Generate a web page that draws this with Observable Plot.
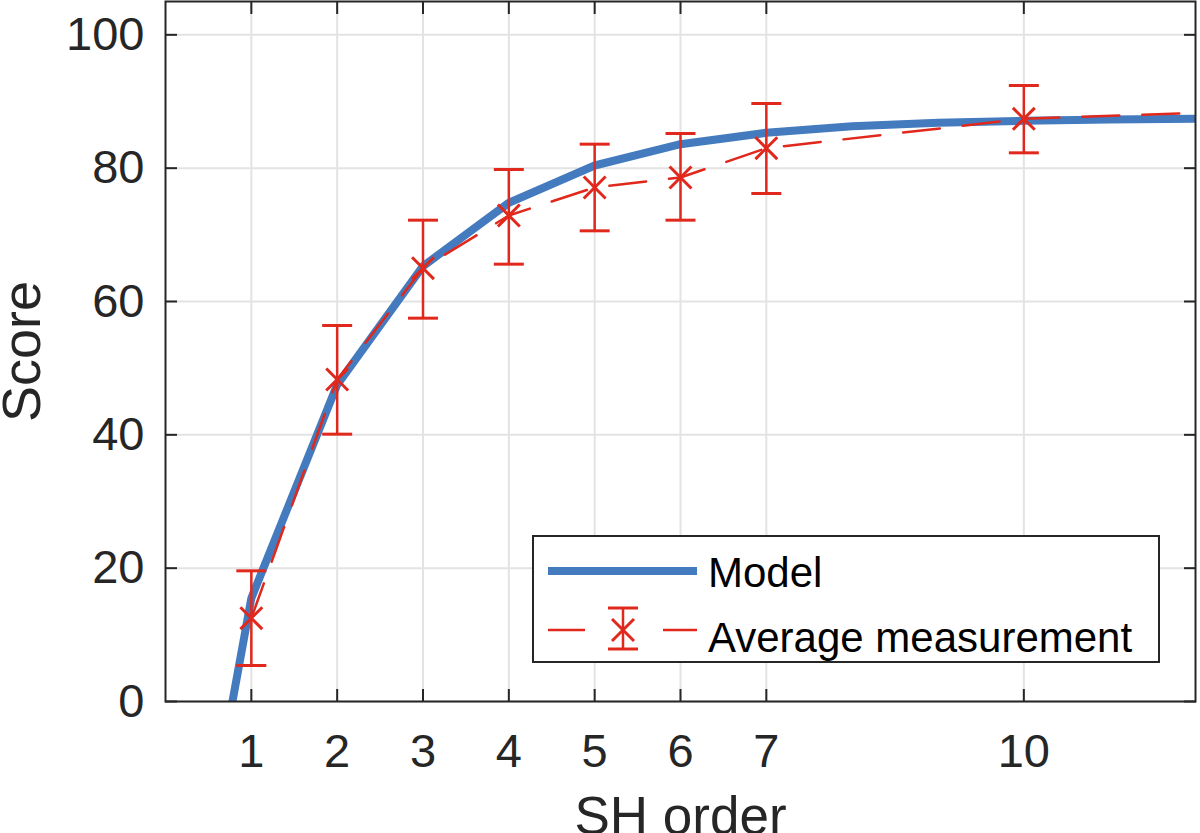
<!DOCTYPE html>
<html><head><meta charset="utf-8">
<script src="https://cdn.jsdelivr.net/npm/d3@7"></script>
<script src="https://cdn.jsdelivr.net/npm/@observablehq/plot@0.6"></script>
<style>
body{margin:0;background:#fff;}
#wrap{position:relative;width:1200px;height:833px;overflow:hidden;font-family:"Liberation Sans",Arial,sans-serif;}
#legend{position:absolute;left:532px;top:535px;width:628px;height:128px;box-sizing:border-box;border:2px solid #262626;background:#fff;}
#legend svg{position:absolute;left:0;top:0;}
.lt{position:absolute;left:174px;height:60px;line-height:60px;font-size:42px;color:#000;white-space:nowrap;}
</style></head><body><div id="wrap"></div>
<script>
const xTicks = [1, 2, 3, 4, 5, 6, 7, 10];
const yTicks = [0, 20, 40, 60, 80, 100];

const modelOrder = [0, 1, 2, 3, 4, 5, 6, 7, 8, 9, 10, 11, 12];
const modelScore = [-55, 15.5, 47.5, 65.3, 74.8, 80.4, 83.6, 85.3, 86.3, 86.8, 87.1, 87.3, 87.4];

const measOrder = [1, 2, 3, 4, 5, 6, 7, 10];
const measScore = [12.5, 48.3, 65.0, 72.9, 77.1, 78.6, 83.0, 87.4];
const measLow   = [5.4, 40.1, 57.5, 65.6, 70.6, 72.2, 76.2, 82.3];
const measHigh  = [19.6, 56.4, 72.2, 79.8, 83.6, 85.2, 89.7, 92.4];

const tailOrder = [12];
const tailScore = [88.3];

const blue = "#447bbe";
const red = "#e0281c";
const ink = "#262626";

const model = modelOrder.map((x, i) => ({x, y: modelScore[i]}));
const meas = measOrder.map((x, i) => ({x, y: measScore[i], lo: measLow[i], hi: measHigh[i]}));
const trend = meas.map(d => ({x: d.x, y: d.y})).concat(tailOrder.map((x, i) => ({x, y: tailScore[i]})));

const capSymbol = {draw(ctx, size) { const w = Math.sqrt(size / Math.PI); ctx.moveTo(-w, 0); ctx.lineTo(w, 0); }};

const chart = Plot.plot({
  width: 1200, height: 833,
  marginLeft: 165, marginRight: 5, marginTop: 1, marginBottom: 132,
  x: {domain: [0, 12]},
  y: {domain: [0, 105]},
  style: {fontFamily: '"Liberation Sans", Arial, sans-serif', color: ink, background: "white"},
  marks: [
    Plot.gridX(xTicks, {stroke: "#e3e3e3", strokeOpacity: 1, strokeWidth: 2}),
    Plot.gridY(yTicks, {stroke: "#e3e3e3", strokeOpacity: 1, strokeWidth: 2}),
    Plot.line(model, {x: "x", y: "y", stroke: blue, strokeWidth: 8, strokeLinejoin: "round", clip: true}),
    Plot.line(trend, {x: "x", y: "y", stroke: red, strokeWidth: 2.5, strokeDasharray: "37,23", clip: true}),
    Plot.ruleX(meas, {x: "x", y1: "lo", y2: "hi", stroke: red, strokeWidth: 2.5}),
    Plot.dot(meas, {x: "x", y: "lo", symbol: capSymbol, r: 15, fill: "none", stroke: red, strokeWidth: 3}),
    Plot.dot(meas, {x: "x", y: "hi", symbol: capSymbol, r: 15, fill: "none", stroke: red, strokeWidth: 3}),
    Plot.dot(meas, {x: "x", y: "y", symbol: "times", r: 10, fill: "none", stroke: red, strokeWidth: 3}),
    Plot.frame({stroke: ink, strokeWidth: 2}),
    Plot.axisX(xTicks, {anchor: "bottom", tickSize: -12, tickPadding: 44, fontSize: 47, label: null, stroke: ink, strokeWidth: 2, fill: ink}),
    Plot.axisX(xTicks, {anchor: "top", tickSize: -12, fill: "none", stroke: ink, strokeWidth: 2}),
    Plot.axisY(yTicks, {anchor: "left", tickSize: -12, tickPadding: 33, fontSize: 47, label: null, stroke: ink, strokeWidth: 2, fill: ink}),
    Plot.axisY(yTicks, {anchor: "right", tickSize: -12, fill: "none", stroke: ink, strokeWidth: 2}),
    Plot.axisX([], {anchor: "bottom", tickSize: 0, label: "SH order", labelAnchor: "center", labelOffset: 132, labelArrow: "none", fontSize: 53, fill: ink}),
    Plot.axisY([], {anchor: "left", tickSize: 0, label: "Score", labelAnchor: "center", labelOffset: 164, labelArrow: "none", fontSize: 54, fill: ink})
  ]
});

const wrap = document.getElementById("wrap");
wrap.appendChild(chart);

const legend = document.createElement("div");
legend.id = "legend";
legend.innerHTML = `
<svg width="172" height="124" viewBox="0 0 172 124">
  <line x1="14" y1="34" x2="163" y2="34" stroke="${blue}" stroke-width="8"/>
  <line x1="14" y1="93" x2="51" y2="93" stroke="${red}" stroke-width="2.5"/>
  <line x1="129" y1="93" x2="163" y2="93" stroke="${red}" stroke-width="2.5"/>
  <line x1="89" y1="71" x2="89" y2="112" stroke="${red}" stroke-width="2.5"/>
  <line x1="74" y1="71" x2="104" y2="71" stroke="${red}" stroke-width="3"/>
  <line x1="74" y1="112" x2="104" y2="112" stroke="${red}" stroke-width="3"/>
  <line x1="78" y1="82" x2="100" y2="104" stroke="${red}" stroke-width="3"/>
  <line x1="78" y1="104" x2="100" y2="82" stroke="${red}" stroke-width="3"/>
</svg>
<div class="lt" style="top:6px">Model</div>
<div class="lt" style="top:71px">Average measurement</div>`;
wrap.appendChild(legend);
</script>
</body></html>
